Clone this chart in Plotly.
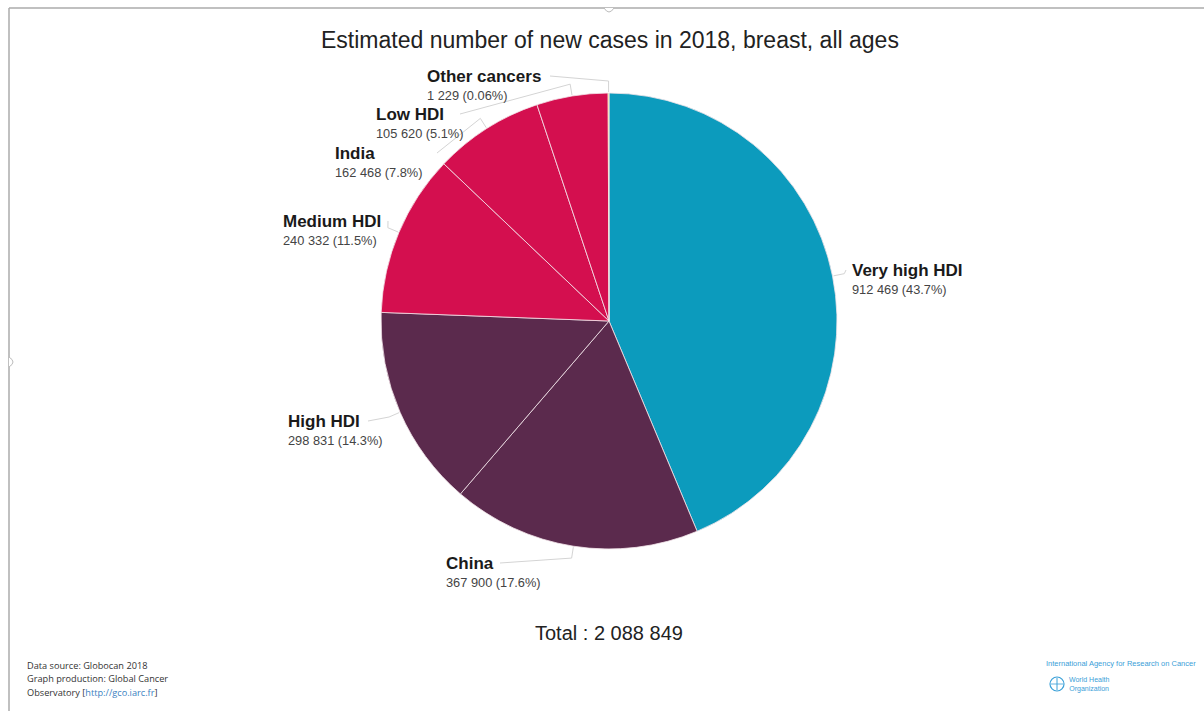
import math
import plotly.graph_objects as go

# Estimated new breast cancer cases, 2018, by population group
groups = ["Very high HDI", "China", "High HDI", "Medium HDI", "India", "Low HDI", "Other cancers"]
cases = [912469, 367900, 298831, 240332, 162468, 105620, 1229]
percent_labels = ["43.7%", "17.6%", "14.3%", "11.5%", "7.8%", "5.1%", "0.06%"]
colors = ["#0C9BBD", "#5B2A4D", "#5B2A4D", "#D40F4F", "#D40F4F", "#D40F4F", "#FADB14"]
total_cases = 2088849

W, H = 1204, 711
CX, CY, R = 609, 321, 228  # pie centre and radius in pixels

# label text placement (left edge x, name centre y, connector start x)
label_pos = {
    "Very high HDI": (852, 270, 846),
    "China": (446, 563, 500),
    "High HDI": (288, 421, 368),
    "Medium HDI": (283, 221, 388),
    "India": (335, 153, 437),
    "Low HDI": (376, 114, 460),
    "Other cancers": (427, 76, 550),
}


def fmt_thousands(v):
    return f"{v:,}".replace(",", " ")


fig = go.Figure()

fig.add_trace(go.Pie(
    labels=groups,
    values=cases,
    sort=False,
    direction="clockwise",
    rotation=0,
    marker=dict(colors=colors, line=dict(color="#F2E4EA", width=0.8)),
    textinfo="none",
    hoverinfo="label+value+percent",
    showlegend=False,
    domain=dict(x=[(CX - R) / W, (CX + R) / W],
                y=[(H - CY - R) / H, (H - CY + R) / H]),
))

annotations = []
total = sum(cases)
cum = 0.0
for name, val, pct in zip(groups, cases, percent_labels):
    mid = (cum + val / 2) / total * 2 * math.pi
    cum += val
    lx, ly, ax = label_pos[name]
    p1 = (CX + (R + 12) * math.sin(mid), CY - (R + 12) * math.cos(mid))
    p2 = (CX + (R + 1) * math.sin(mid), CY - (R + 1) * math.cos(mid))
    fig.add_trace(go.Scatter(
        x=[ax, p1[0], p2[0]], y=[ly, p1[1], p2[1]],
        mode="lines", line=dict(color="#D4D4D4", width=1),
        hoverinfo="skip", showlegend=False, xaxis="x", yaxis="y",
    ))
    annotations.append(dict(
        x=lx, y=ly, xref="x", yref="y", xanchor="left", yanchor="middle",
        text=f"<b>{name}</b>", showarrow=False, xshift=-2,
        font=dict(family="Liberation Sans, Arial", size=17, color="#1a1a1a"),
    ))
    annotations.append(dict(
        x=lx, y=ly + 19, xref="x", yref="y", xanchor="left", yanchor="middle",
        text=f"{fmt_thousands(val)} ({pct})", showarrow=False, xshift=-2,
        font=dict(family="Liberation Sans, Arial", size=12.8, color="#444444"),
    ))

# title and total
annotations.append(dict(
    x=610, y=40, xref="x", yref="y", xanchor="center", yanchor="middle",
    text="Estimated number of new cases in 2018, breast, all ages", showarrow=False,
    font=dict(family="Liberation Sans, Arial", size=23, color="#222222"),
))
annotations.append(dict(
    x=609, y=633, xref="x", yref="y", xanchor="center", yanchor="middle",
    text=f"Total : {fmt_thousands(total_cases)}", showarrow=False,
    font=dict(family="Liberation Sans, Arial", size=20, color="#222222"),
))

# source notes
for i, line in enumerate([
    "Data source: Globocan 2018",
    "Graph production: Global Cancer",
    "Observatory [<span style='color:#3A7FC1'>http://gco.iarc.fr</span>]",
]):
    annotations.append(dict(
        x=27, y=665 + i * 13.5, xref="x", yref="y", xanchor="left", yanchor="middle",
        text=line, showarrow=False, xshift=-2,
        font=dict(family="Open Sans", size=9.2, color="#333333"),
    ))

# agency credits
annotations.append(dict(
    x=1046, y=663, xref="x", yref="y", xanchor="left", yanchor="middle",
    text="International Agency for Research on Cancer", showarrow=False, xshift=-2,
    font=dict(family="Liberation Sans Narrow, Liberation Sans", size=7.5, color="#3AA0D8"),
))
annotations.append(dict(
    x=1069, y=684, xref="x", yref="y", xanchor="left", yanchor="middle",
    text="World Health<br>Organization", showarrow=False, xshift=-2,
    font=dict(family="Liberation Sans Narrow, Liberation Sans", size=7, color="#3AA0D8"),
))

shapes = [
    # page frame
    dict(type="line", xref="x", yref="y", x0=9, y0=8, x1=1204, y1=8,
         line=dict(color="#ABABAB", width=1.5)),
    dict(type="line", xref="x", yref="y", x0=9, y0=8, x1=9, y1=711,
         line=dict(color="#ABABAB", width=1.5)),
    dict(type="path", xref="x", yref="y", path="M 604 8 Q 609 16 614 8",
         line=dict(color="#BBBBBB", width=1), fillcolor="white"),
    dict(type="path", xref="x", yref="y", path="M 9 357 Q 17 362 9 367",
         line=dict(color="#BBBBBB", width=1), fillcolor="white"),
    # emblem
    dict(type="circle", xref="x", yref="y", x0=1050, y0=677, x1=1064, y1=691,
         line=dict(color="#3AA0D8", width=1.2)),
    dict(type="line", xref="x", yref="y", x0=1057, y0=678, x1=1057, y1=690,
         line=dict(color="#3AA0D8", width=1)),
    dict(type="line", xref="x", yref="y", x0=1051, y0=684, x1=1063, y1=684,
         line=dict(color="#3AA0D8", width=0.8)),
]

fig.update_layout(
    width=W, height=H,
    margin=dict(l=0, r=0, t=0, b=0),
    paper_bgcolor="white", plot_bgcolor="rgba(0,0,0,0)",
    xaxis=dict(range=[0, W], visible=False, fixedrange=True, domain=[0, 1]),
    yaxis=dict(range=[H, 0], visible=False, fixedrange=True, domain=[0, 1]),
    annotations=annotations,
    shapes=shapes,
    showlegend=False,
)

fig.write_html("out.html")
